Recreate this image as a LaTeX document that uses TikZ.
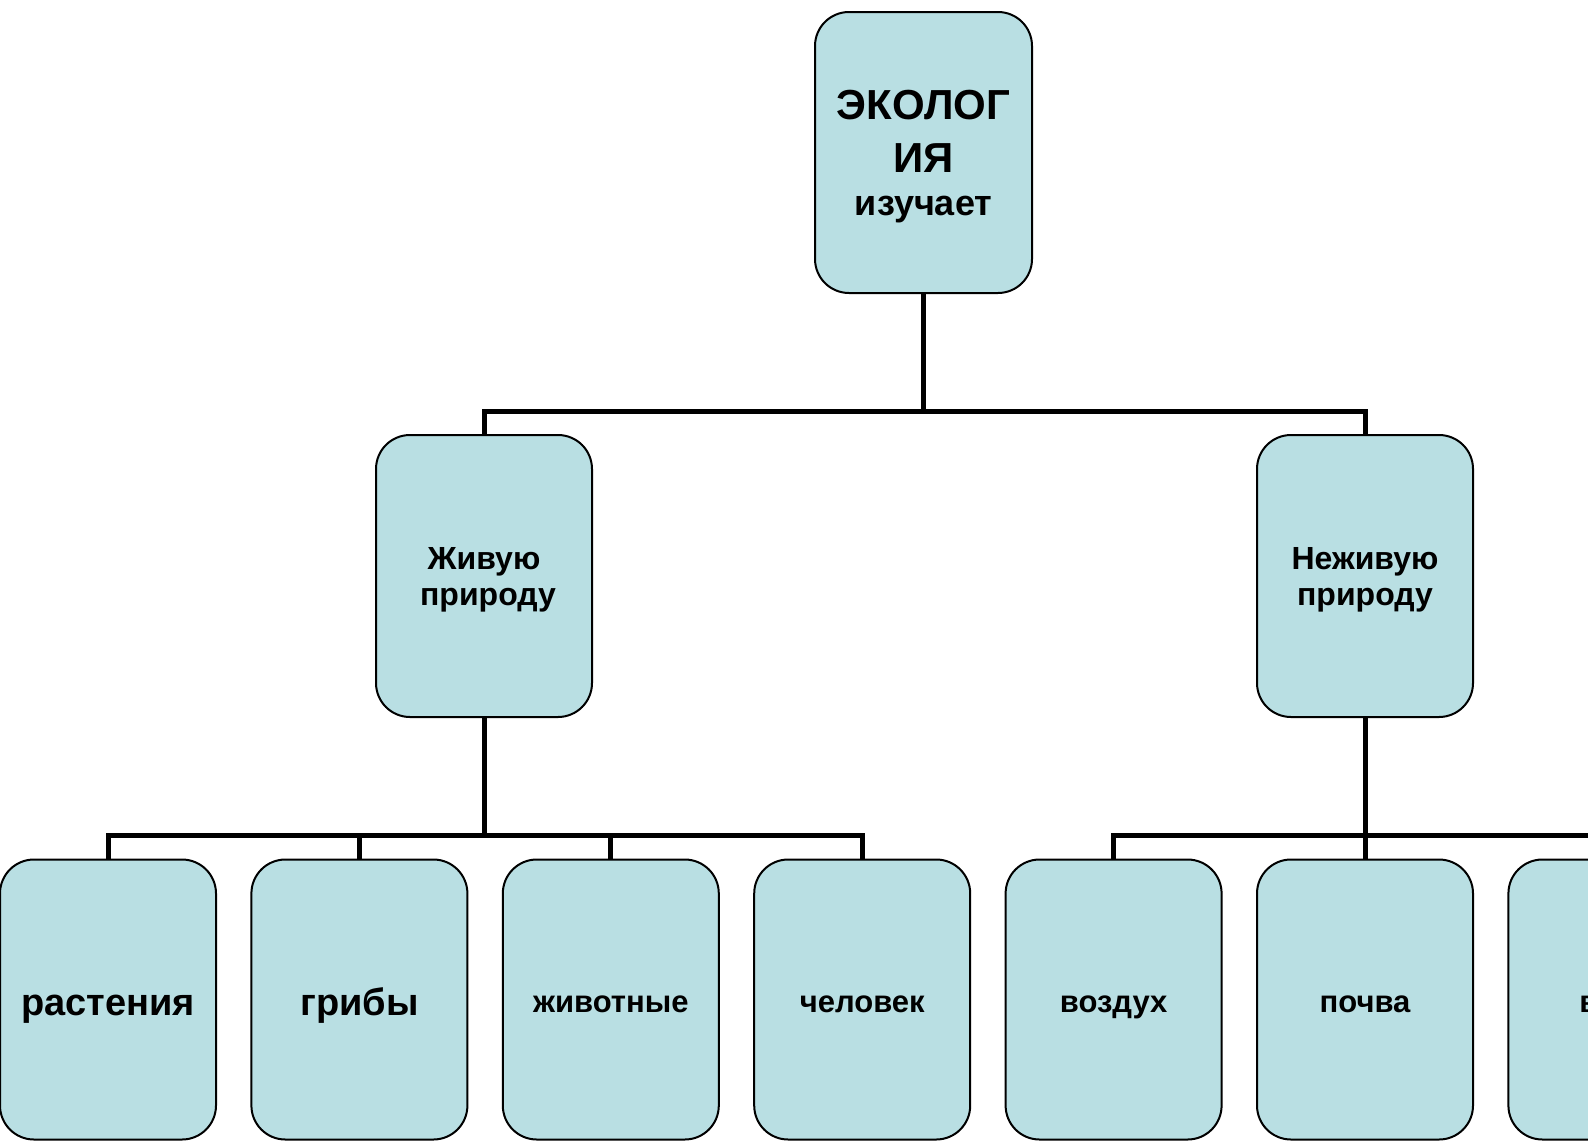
\documentclass[tikz,border=0pt]{standalone}
\usepackage{fontspec}
\setmainfont{Liberation Sans}
\definecolor{boxblue}{RGB}{185,223,227}
\tikzset{
    box/.style={draw, line width=1pt, fill=boxblue, rounded corners=17pt,
        minimum width=108pt, minimum height=140pt, align=center, font=\bfseries},
    conn/.style={line width=2.5pt}
}
\begin{document}
\begin{tikzpicture}[x=0.5pt, y=-0.5pt]
    \useasboundingbox (0,0) rectangle (1588,1140);
    \clip (0,0) rectangle (1588,1140);
    \node[box, minimum width=108.5pt, minimum height=140.5pt, text height=63pt, text depth=0.5pt,
        font=\bfseries\fontsize{21}{26.5}\selectfont] (eco) at (923.5,152.5)
        {ЭКОЛОГ\\ИЯ\\[-5pt]{\fontsize{18}{18}\selectfont изучает}};
    \node[box, minimum height=141pt, text height=30pt, text depth=1pt,
        font=\bfseries\fontsize{16}{18}\selectfont] (live) at (484,576) {Живую\\\hspace{4pt}природу};
    \node[box, minimum height=141pt, text height=30pt, text depth=1pt,
        font=\bfseries\fontsize{16}{18}\selectfont] (nonlive) at (1365,576) {Неживую\hspace{4pt}\\природу};
    \foreach \name/\x/\txt/\size/\base in {plants/108/растения/19/16, fungi/359.4/грибы/19/16,
        animals/610.8/животные/15.5/13.5, human/862.2/человек/15.5/13.5,
        air/1113.6/воздух/15.5/13.5, soil/1365/почва/15.5/13.5, water/1616.4/вода/15.5/13.5}
    {
        \node[box, text height=\base pt, text depth=0.5pt,
            font=\bfseries\fontsize{\size}{\size}\selectfont] (\name) at (\x,999.5) {\txt};
    }
    \coordinate (bus1) at (0,411);
    \coordinate (bus2) at (0,835);
    % first level
    \draw[conn] (eco.south) -- (eco.south |- bus1);
    \draw[conn] (live.north) -- (live.north |- bus1) -- (nonlive.north |- bus1) -- (nonlive.north);
    % living nature
    \draw[conn] (live.south) -- (live.south |- bus2);
    \draw[conn] (plants.north) -- (plants.north |- bus2) -- (human.north |- bus2) -- (human.north);
    \foreach \name in {fungi, animals}
    {
        \draw[conn] (\name.north) -- (\name.north |- bus2);
    }
    % non-living nature
    \draw[conn] (nonlive.south) -- (nonlive.south |- bus2);
    \draw[conn] (air.north) -- (air.north |- bus2) -- (water.north |- bus2) -- (water.north);
    \draw[conn] (soil.north) -- (soil.north |- bus2);
\end{tikzpicture}
\end{document}
